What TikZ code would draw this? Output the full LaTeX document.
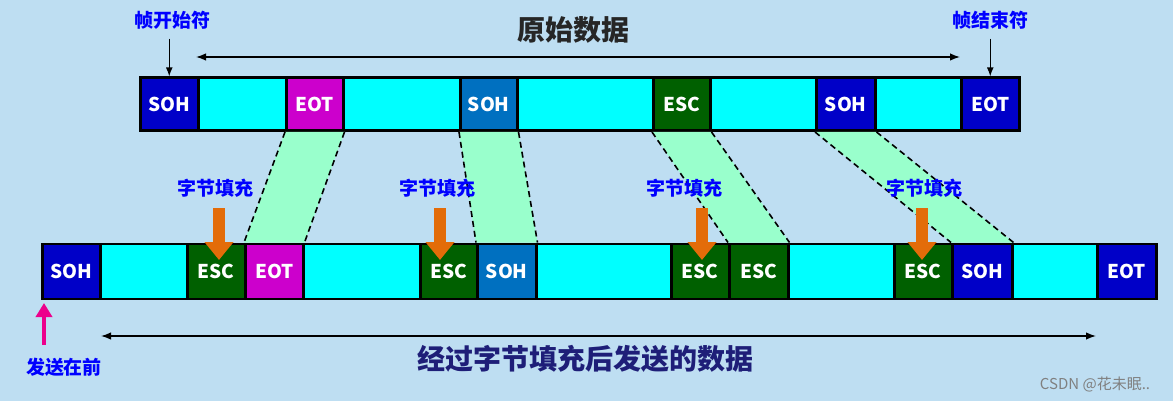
\documentclass[tikz,border=0pt]{standalone}
\usepackage{fontspec}
\setmainfont{Noto Sans CJK SC}
\usetikzlibrary{arrows.meta}
\definecolor{bgblue}{RGB}{190,222,242}
\definecolor{dataC}{RGB}{0,255,255}
\definecolor{sohD}{RGB}{0,0,200}
\definecolor{sohL}{RGB}{0,112,192}
\definecolor{eotM}{RGB}{204,0,204}
\definecolor{escG}{RGB}{0,96,0}
\definecolor{fillG}{RGB}{153,255,204}
\definecolor{stuffO}{RGB}{227,108,9}
\definecolor{navy}{RGB}{30,30,120}

\tikzset{
  cell/.style={draw=black, line width=2.5pt, inner sep=0pt, anchor=south west, font=\bfseries\fontsize{19}{19}\selectfont, text=white},
  lbl/.style={text=blue, font=\bfseries\fontsize{19}{19}\selectfont},
  band/.style={fill=fillG},
  bandedge/.style={dashed, dash pattern=on 6pt off 4pt, line width=1.6pt},
  stuff/.style={-{Triangle[length=18pt,width=28pt]}, line width=12pt, draw=stuffO}
}

\begin{document}
\begin{tikzpicture}[x=1pt, y=-1pt]
    \fill[bgblue] (0,0) rectangle (1173,401);
    \useasboundingbox (0,0) rectangle (1173,401);

    % top row: original data
    \foreach \n/\a/\b/\c/\t in {1/139/197/sohD/SOH, 2/197/285/dataC/, 3/285/342/eotM/EOT, 4/342/459/dataC/,
        5/459/516/sohL/SOH, 6/516/652/dataC/, 7/652/709/escG/ESC, 8/709/815/dataC/,
        9/815/874/sohD/SOH, 10/874/960/dataC/, 11/960/1018/sohD/EOT}
      \node[cell, fill=\c, minimum width=\b-\a, minimum height=53] (t\n) at (\a,132) {\t};

    % bottom row: stuffed data
    \foreach \n/\a/\b/\c/\t in {1/41/99/sohD/SOH, 2/99/186/dataC/, 3/186/244/escG/ESC, 4/244/302/eotM/EOT,
        5/302/419/dataC/, 6/419/476/escG/ESC, 7/476/535/sohL/SOH, 8/535/670/dataC/,
        9/670/728/escG/ESC, 10/728/787/escG/ESC, 11/787/893/dataC/, 12/893/951/escG/ESC,
        13/951/1011/sohD/SOH, 14/1011/1096/dataC/, 15/1096/1155/sohD/EOT}
      \node[cell, fill=\c, minimum width=\b-\a, minimum height=55] (b\n) at (\a,300) {\t};

    % bands from original byte to stuffed byte
    \foreach \u/\d in {3/4, 5/7, 7/10, 9/13} {
      \fill[band] (t\u.south west) -- (t\u.south east) -- (b\d.north east) -- (b\d.north west) -- cycle;
      \draw[bandedge] (t\u.south west) -- (b\d.north west);
      \draw[bandedge] (t\u.south east) -- (b\d.north east);
    }

    % stuffing labels and arrows
    \foreach \d/\x/\lx in {3/219/215, 6/440/437, 9/702/684, 12/922/924} {
      \node[lbl] (s\d) at (\lx,188) {字节填充};
      \coordinate (sa\d) at (\x,208);
      \draw[stuff] (sa\d) -- (\x,260);
    }

    % frame delimiters
    \node[lbl] (start) at (172,20) {帧开始符};
    \node[lbl] (end) at (990,20) {帧结束符};
    \draw[-{Latex[length=9pt]}, line width=1.2pt] (start.south -| t1) ++(0,6) -- (t1.north);
    \draw[-{Latex[length=9pt]}, line width=1.2pt] (end.south -| t11) ++(0,6) -- (t11.north);

    % original data span
    \node[font=\bfseries\fontsize{28}{28}\selectfont, text=black!85] (orig) at (573,30) {原始数据};
    \coordinate (ol) at (196,57);
    \coordinate (or) at (960,57);
    \draw[{Latex[length=10pt]}-{Latex[length=10pt]}, line width=1.4pt] (ol) -- (or);

    % stuffed data span
    \coordinate (sl) at (101,336);
    \coordinate (sr) at (1096,336);
    \draw[{Latex[length=10pt]}-{Latex[length=10pt]}, line width=1.4pt] (sl) -- (sr);
    \node[font=\bfseries\fontsize{28}{28}\selectfont, text=navy] (sent) at (585,359) {经过字节填充后发送的数据};

    % send first
    \node[lbl] (first) at (64,367) {发送在前};
    \coordinate (fa) at (44,345);
    \draw[-{Triangle[length=14pt,width=16pt]}, line width=4pt, draw=magenta] (fa) -- (44,303);

    \node[text=gray, font=\fontsize{15}{15}\selectfont] (mark) at (1095,384) {CSDN @花未眠..};
\end{tikzpicture}
\end{document}
